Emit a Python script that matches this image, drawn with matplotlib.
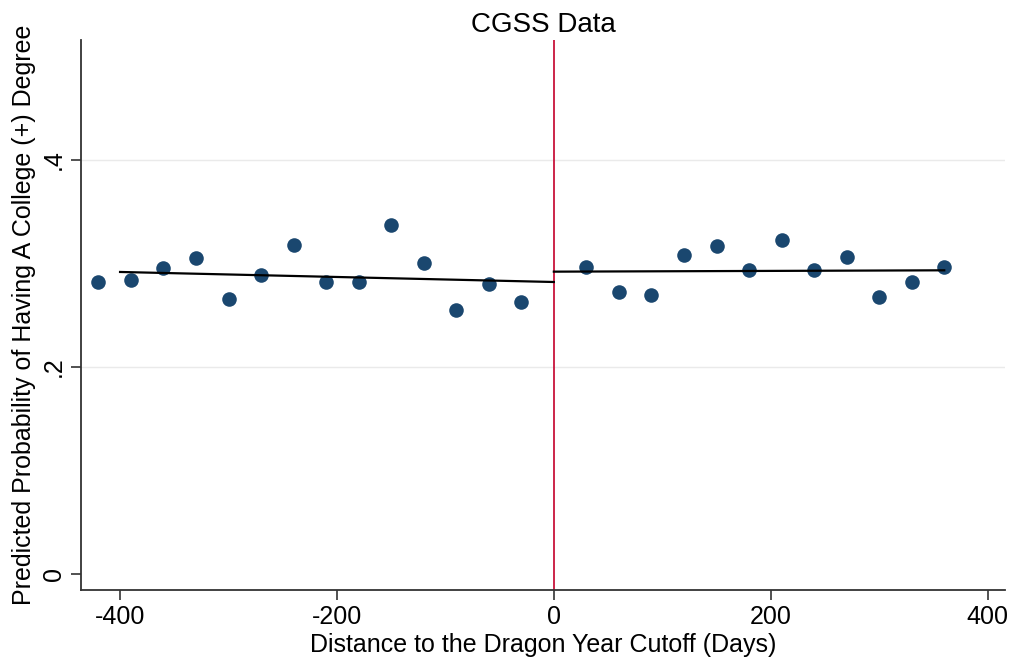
import matplotlib.pyplot as plt
import numpy as np

plt.rcParams['font.family'] = ['Liberation Sans', 'DejaVu Sans']

# binned means, left of cutoff
x_left = [-420, -390, -360, -330, -300, -270, -240, -210, -180, -150, -120, -90, -60, -30]
y_left = [0.2824, 0.2841, 0.2954, 0.3050, 0.2660, 0.2886, 0.3179, 0.2821, 0.2821,
          0.3375, 0.3002, 0.2548, 0.2805, 0.2628]
# binned means, right of cutoff
x_right = [30, 60, 90, 120, 150, 180, 210, 240, 270, 300, 330, 360]
y_right = [0.2969, 0.2728, 0.2693, 0.3085, 0.3166, 0.2937, 0.3227, 0.2937, 0.3066,
           0.2676, 0.2821, 0.2969]
# linear fit end points
fit_left_x = [-400, 0]
fit_left_y = [0.2918, 0.2821]
fit_right_x = [0, 360]
fit_right_y = [0.2921, 0.2934]

xticks = [-400, -200, 0, 200, 400]
yticks = [0, 0.2, 0.4]
ylabels = ['0', '.2', '.4']

fig = plt.figure(figsize=(10.14, 6.68), dpi=100)
ax = fig.add_axes([0.0799, 0.1168, 0.9112, 0.8234])

ax.set_xlim(-436, 416)
ax.set_ylim(-0.0155, 0.516)

for yv in yticks[1:]:
    ax.axhline(yv, color='#eaeaea', lw=1.0, zorder=0)

ax.axvline(0, color='#c8143c', lw=1.3, zorder=1)

ax.scatter(x_left, y_left, s=110, color='#1a476f', zorder=3, linewidths=0)
ax.scatter(x_right, y_right, s=110, color='#1a476f', zorder=3, linewidths=0)
ax.plot(fit_left_x, fit_left_y, color='black', lw=1.6, zorder=4)
ax.plot(fit_right_x, fit_right_y, color='black', lw=1.6, zorder=4)

ax.spines['top'].set_visible(False)
ax.spines['right'].set_visible(False)
ax.spines['left'].set_linewidth(1.3)
ax.spines['bottom'].set_linewidth(1.3)
ax.spines['left'].set_color('#333333')
ax.spines['bottom'].set_color('#333333')

ax.set_xticks(xticks)
ax.set_xticklabels([str(v) for v in xticks], fontsize=18)
ax.set_yticks(yticks)
ax.set_yticklabels(ylabels, fontsize=18, rotation=90, va='center')
ax.tick_params(direction='out', length=7, width=1.2, color='#333333', pad=4)

ax.set_xlabel('Distance to the Dragon Year Cutoff (Days)', fontsize=18, labelpad=3)
ax.set_ylabel('Predicted Probability of Having A College (+) Degree', fontsize=18, labelpad=4)
ax.set_title('CGSS Data', fontsize=20, pad=6)

plt.savefig('out.png', dpi=100)
plt.close(fig)
